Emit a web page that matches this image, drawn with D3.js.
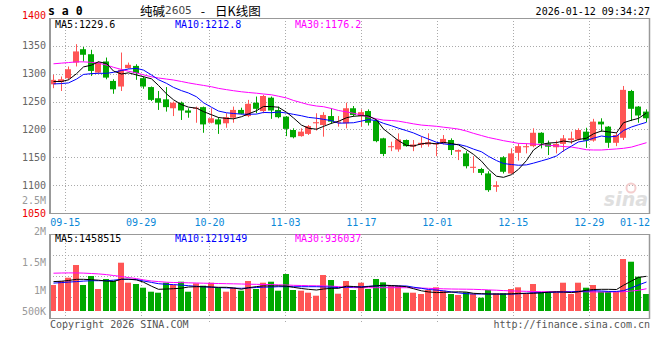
<!DOCTYPE html>
<html><head><meta charset="utf-8">
<script src="https://cdn.jsdelivr.net/npm/d3@7"></script>
<style>
body{margin:0;background:#fff;}
svg{display:block;}
text{font-family:"DejaVu Sans Mono",monospace;}
</style></head><body>
<svg id="c" width="660" height="360"></svg>
<script>
// ---- data ----
const openP=[1281,1285,1292,1320,1344,1335,1302,1322,1287,1277,
1310,1314,1292,1276,1256,1254,1238,1248,1234,1237,
1240,1212,1218,1211,1221,1235,1224,1248,1233,1257,
1235,1223,1199,1188,1192,1211,1208,1224,1212,1211,
1238,1224,1233,1216,1184,1168,1164,1181,1169,1172,
1173,1173,1175,1181,1160,1157,1131,1129,1121,1097,
1150,1121,1158,1168,1170,1194,1175,1168,1174,1181,
1182,1196,1180,1214,1205,1176,1185,1269,1241,1232];
const highP=[1298,1295,1313,1353,1348,1343,1322,1329,1290,1338,
1320,1317,1295,1277,1269,1276,1250,1250,1238,1241,
1241,1238,1222,1229,1241,1239,1253,1259,1262,1259,
1241,1224,1202,1202,1208,1229,1231,1238,1224,1248,
1242,1236,1236,1218,1185,1178,1193,1182,1181,1187,
1193,1176,1190,1184,1164,1161,1152,1131,1125,1107,
1152,1166,1175,1175,1202,1195,1180,1180,1190,1196,
1202,1203,1219,1220,1206,1194,1278,1271,1242,1236];
const lowP=[1274,1269,1289,1313,1322,1296,1300,1290,1264,1269,
1309,1289,1273,1251,1235,1232,1224,1217,1221,1212,
1194,1211,1192,1203,1212,1227,1222,1229,1229,1219,
1220,1188,1184,1187,1190,1198,1187,1210,1205,1202,
1223,1205,1207,1177,1152,1161,1160,1169,1161,1167,
1169,1152,1173,1154,1145,1130,1122,1118,1088,1088,
1121,1120,1144,1157,1168,1166,1154,1157,1160,1174,
1180,1167,1178,1196,1167,1170,1181,1215,1212,1213];
const closeP=[1289,1290,1308,1340,1334,1305,1320,1293,1272,1307,
1316,1301,1277,1253,1248,1240,1248,1234,1230,1239,
1209,1220,1209,1222,1235,1228,1246,1237,1260,1234,
1222,1201,1186,1196,1206,1213,1226,1214,1214,1238,
1226,1231,1212,1179,1156,1170,1182,1170,1173,1176,
1177,1175,1183,1163,1163,1134,1133,1122,1091,1100,
1124,1157,1170,1170,1194,1175,1169,1174,1184,1184,
1199,1180,1214,1209,1176,1190,1271,1237,1225,1220];
const ma5=[1286,1286,1289,1300,1312.2,1315.4,1321.4,1318.4,1304.8,1299.4,
1301.6,1297.8,1294.6,1290.8,1279,1263.8,1253.2,1244.6,1240,1238.2,
1232,1226.4,1221.4,1219.8,1219,1222.8,1228,1233.6,1241.2,1241,
1239.8,1230.8,1220.6,1207.8,1202.2,1200.4,1205.4,1211,1214.6,1221,
1223.6,1224.6,1224.2,1217.2,1200.8,1189.6,1179.8,1171.4,1170.2,1174.2,
1175.6,1174.2,1176.8,1174.8,1172.2,1163.6,1155.2,1143,1128.6,1116,
1114,1118.8,1128.4,1144.2,1163,1173.2,1175.6,1176.4,1179.2,1177.2,
1182,1184.2,1192.2,1197.2,1195.6,1193.8,1212,1216.6,1219.8,1229.6];
const ma10=[1281.7,1282.3,1283.5,1290.3,1298.7,1300.2,1300.7,1300.7,1302.5,1305.8,
1308.5,1309.6,1306.5,1297.8,1289.2,1282.7,1275.5,1269.6,1265.4,1258.6,
1247.9,1239.8,1233,1229.9,1228.6,1227.4,1227.2,1227.5,1230.5,1230,
1231.3,1229.4,1227.1,1224.5,1221.6,1220.1,1218.1,1215.8,1211.2,1211.6,
1212,1215,1217.6,1215.9,1210.9,1206.6,1202.2,1197.8,1193.7,1187.5,
1182.6,1177,1174.1,1172.5,1173.2,1169.6,1164.7,1159.9,1151.7,1144.1,
1138.8,1137,1135.7,1136.4,1139.5,1143.6,1147.2,1152.4,1161.7,1170.1,
1177.6,1179.9,1184.3,1188.2,1186.4,1187.9,1198.1,1204.4,1208.5,1212.8];
const ma30=[1317.8,1319,1320,1321.3,1321.3,1320.4,1319,1315.5,1311.5,1307.6,
1304.5,1301.4,1298,1294.5,1292.3,1290.4,1288.7,1286,1283.5,1281,
1279,1276.6,1273.7,1271.4,1269.5,1267.6,1266.3,1265,1263.6,1262.2,
1259.6,1256.5,1252,1248,1244.5,1242,1240.8,1237.5,1234,1231.5,
1229,1225.8,1222.3,1219,1216.7,1216,1214.8,1212.3,1210,1207.8,
1206.8,1205.6,1204,1202.3,1200.6,1197,1193,1189,1185.5,1182.5,
1179.8,1177.3,1175,1174.5,1173.8,1172.7,1171.6,1170.5,1169.3,1168.3,
1166.3,1163.5,1163.1,1163.1,1164,1165,1166.1,1168.3,1172,1176.2];
// volume in thousands
const volK=[1092,1260,1399,1932,1092,1470,924,1344,1273,2029,
1189,1134,979,811,769,1189,1092,1231,811,1163,
1063,1189,979,811,979,853,1260,924,1189,1231,
853,1554,882,853,769,643,1512,1302,727,1260,
882,1189,924,1344,1205,1063,1063,769,769,714,
882,995,853,714,672,785,714,559,882,743,
743,924,995,714,1134,785,811,785,1189,714,
1189,979,1092,811,811,811,2184,2071,1441,714];
const vma5K=[1235,1252,1281,1331,1331,1315,1294,1260,1239,1336,
1336,1306,1210,1042,911,924,937,958,1008,1021,
1021,1008,995,995,966,916,979,1025,1054,1050,
1058,1042,995,945,911,882,924,953,953,1042,
1029,995,1029,1058,1084,1071,1050,1021,937,848,
802,773,781,794,806,794,743,727,714,714,
714,722,739,743,743,764,790,806,798,773,
806,874,903,911,911,903,1080,1260,1410,1458.5];
const vma10K=[1172,1193,1214,1235,1256,1273,1273,1273,1294,1331,
1331,1319,1260,1201,1147,1121,1109,1088,1063,1037,
1016,1000,983,970,962,953,970,987,1000,1008,
1021,1021,1021,1021,1021,1021,1012,1000,983,1000,
1008,1021,1037,1054,1063,1058,1054,1050,1000,953,
903,878,848,802,760,727,714,714,714,710,
706,710,722,743,769,773,781,790,798,806,
823,836,853,840,823,823,853,974,1092,1219.1];
const vma30K=[1588,1596,1600,1600,1592,1575,1558,1529,1491,1449,
1403,1361,1310,1260,1235,1210,1197,1193,1184,1176,
1168,1159,1155,1147,1142,1134,1126,1121,1113,1109,
1100,1092,1079,1071,1063,1058,1054,1042,1025,995,
983,979,979,979,979,979,979,979,970,962,
953,941,932,924,920,916,911,899,886,874,
857,844,836,827,819,811,811,811,811,811,
811,806,802,798,798,802,811,840,869,936];
const dateLabels=["09-15","09-29","10-20","11-03","11-17","12-01","12-15","12-29","01-12"];
const dateIdx=[2,12,21,31,41,51,61,71,79];
const priceTicks=[1400,1350,1300,1250,1200,1150,1100,1050];
const volTicks=[2500000,2000000,1500000,1000000,500000];
const volTickText=["2.5M","2M","1.5M","1M","500K"];
const legendP=["MA5:1229.6","MA10:1212.8","MA30:1176.2"];
const legendV=["MA5:1458515","MA10:1219149","MA30:936037"];

// ---- layout ----
const L=50,R=650,PT=18,PB=213,VT=234,VB=318,VBASE=311;
const RED="#ff5555",GREEN="#00a800",GRID="#aaaaaa",BORDER="#999999";
const n=closeP.length;
const svg=d3.select("#c");
const band=d3.scaleBand().domain(d3.range(n)).range([L,R]).paddingInner(0.2).paddingOuter(0.1);
const gx=d3.scaleLinear().domain([0,n-1]).range([L,R]);
const py=d3.scaleLinear().domain([1050,1400]).range([PB,PT]);
const vy=d3.scaleLinear().domain([0,1000]).range([VBASE,VBASE-23.8]);
const vLab=d3.scaleLinear().domain([500000,1000000,1500000,2000000,2500000]).range([311,290,262,231,200]);
const cx=i=>Math.floor(band(i))+3.5;

// grid
const g=svg.append("g");
priceTicks.slice(1,-1).forEach(v=>{
  g.append("line").attr("x1",L).attr("x2",R).attr("y1",Math.round(py(v))+0.5).attr("y2",Math.round(py(v))+0.5)
   .attr("stroke",GRID).attr("stroke-dasharray","1,2");
});
[1,2,3].forEach(k=>{
  const y=Math.round(VT+k*(VB-VT)/4)+0.5;
  g.append("line").attr("x1",L).attr("x2",R).attr("y1",y).attr("y2",y).attr("stroke",GRID).attr("stroke-dasharray","1,2");
});
dateIdx.slice(0,-1).forEach(i=>{
  const x=Math.round(gx(i))+0.5;
  g.append("line").attr("x1",x).attr("x2",x).attr("y1",PT).attr("y2",PB).attr("stroke",GRID).attr("stroke-dasharray","1,2");
  g.append("line").attr("x1",x).attr("x2",x).attr("y1",VT).attr("y2",VB+4).attr("stroke",GRID).attr("stroke-dasharray","1,2");
});

// watermark
const wm=svg.append("g").attr("opacity",0.9);
wm.append("text").attr("x",648).attr("y",206).attr("text-anchor","end")
  .attr("font-style","italic").attr("font-weight","bold")
  .attr("font-size",19).attr("fill","#dcdcdc").style("font-family","DejaVu Sans").text("sina");
wm.append("circle").attr("cx",631).attr("cy",188).attr("r",4.5).attr("fill","none").attr("stroke","#f3c9c9").attr("stroke-width",2);

// candles
const cg=svg.append("g");
d3.range(n).forEach(i=>{
  const up=closeP[i]>=openP[i];
  const col=up?RED:GREEN;
  const x=Math.floor(band(i));
  cg.append("line").attr("x1",x+3.5).attr("x2",x+3.5).attr("y1",py(highP[i])).attr("y2",py(lowP[i])).attr("stroke",col);
  const y1=py(Math.max(openP[i],closeP[i])),y2=py(Math.min(openP[i],closeP[i]));
  cg.append("rect").attr("x",x).attr("y",y1).attr("width",6).attr("height",Math.max(1,y2-y1)).attr("fill",col);
  cg.append("rect").attr("x",x).attr("y",vy(volK[i])).attr("width",6).attr("height",VBASE-vy(volK[i])).attr("fill",col);
});

// MA lines
const lineP=d3.line().x((d,i)=>cx(i)).y(d=>py(d));
const lineV=d3.line().x((d,i)=>cx(i)).y(d=>vy(d));
[[ma30,"#ff00ff"],[ma10,"#0000ff"],[ma5,"#000000"]].forEach(([a,c])=>{
  svg.append("path").attr("d",lineP(a)).attr("fill","none").attr("stroke",c).attr("stroke-width",1);
});
[[vma30K,"#ff00ff"],[vma10K,"#0000ff"],[vma5K,"#000000"]].forEach(([a,c])=>{
  svg.append("path").attr("d",lineV(a)).attr("fill","none").attr("stroke",c).attr("stroke-width",1);
});

// borders
const b=svg.append("g").attr("stroke",BORDER).attr("fill","none");
[[PT,PB],[VT,VB]].forEach(([t,bt])=>{
  b.append("line").attr("x1",L).attr("x2",R).attr("y1",t+0.5).attr("y2",t+0.5);
  b.append("line").attr("x1",L).attr("x2",R).attr("y1",bt+0.5).attr("y2",bt+0.5);
  b.append("line").attr("x1",L).attr("x2",L).attr("y1",t).attr("y2",bt+1).attr("stroke-width",2);
  b.append("line").attr("x1",R-0.5).attr("x2",R-0.5).attr("y1",t).attr("y2",bt+1).attr("stroke-width",1.5);
});

// axis labels
const FS=10;
priceTicks.forEach((v,k)=>{
  const red=(k===0||k===priceTicks.length-1);
  svg.append("text").attr("x",46).attr("y",py(v)+(k===0?-2.5:0)).attr("text-anchor","end")
    .attr("dominant-baseline","central").attr("font-size",FS).attr("fill",red?"#ee0000":"#666666").text(v);
});
volTicks.forEach((v,k)=>{
  svg.append("text").attr("x",46).attr("y",vLab(v)).attr("text-anchor","end")
    .attr("dominant-baseline","central").attr("font-size",FS).attr("fill","#999999").text(volTickText[k]);
});
dateLabels.forEach((d,k)=>{
  const last=k===dateLabels.length-1;
  svg.append("text").attr("x",last?R:gx(dateIdx[k])).attr("y",222).attr("text-anchor",last?"end":"middle")
    .attr("dominant-baseline","central").attr("font-size",FS).attr("fill","#0a88d8").text(d);
});

// legends
const legCols=["#000000","#0000ff","#ff00ff"],legX=[55,175,295];
legendP.forEach((t,k)=>svg.append("text").attr("x",legX[k]).attr("y",24.5).attr("dominant-baseline","central")
  .attr("font-size",FS).attr("fill",legCols[k]).text(t));
legendV.forEach((t,k)=>svg.append("text").attr("x",legX[k]).attr("y",238.5).attr("dominant-baseline","central")
  .attr("font-size",FS).attr("fill",legCols[k]).text(t));

// header
svg.append("text").attr("x",48).attr("y",10.5).attr("dominant-baseline","central").attr("font-size",11.5)
  .attr("font-weight","bold").attr("fill","#000").text("s a 0");
const title=svg.append("text").attr("x",140).attr("y",9.5).attr("dominant-baseline","central")
  .style("font-family","'Noto Sans CJK SC',sans-serif").attr("font-size",12.5).attr("fill","#000");
title.append("tspan").text("纯碱");
title.append("tspan").attr("fill","#444").style("font-family","'DejaVu Sans',sans-serif").attr("font-size",10.5).text("2605");
title.append("tspan").attr("dx",9).text("-");
title.append("tspan").attr("dx",10).text("日K线图");
svg.append("text").attr("x",650).attr("y",11).attr("text-anchor","end").attr("dominant-baseline","central")
  .attr("font-size",FS).attr("fill","#000").text("2026-01-12 09:34:27");

// footer
svg.append("text").attr("x",50).attr("y",324).attr("dominant-baseline","central").attr("font-size",FS).attr("fill","#555").text("Copyright 2026 SINA.COM");
svg.append("text").attr("x",650).attr("y",324).attr("text-anchor","end").attr("dominant-baseline","central").attr("font-size",FS).attr("fill","#555").text("http://finance.sina.com.cn");
</script>
</body></html>
